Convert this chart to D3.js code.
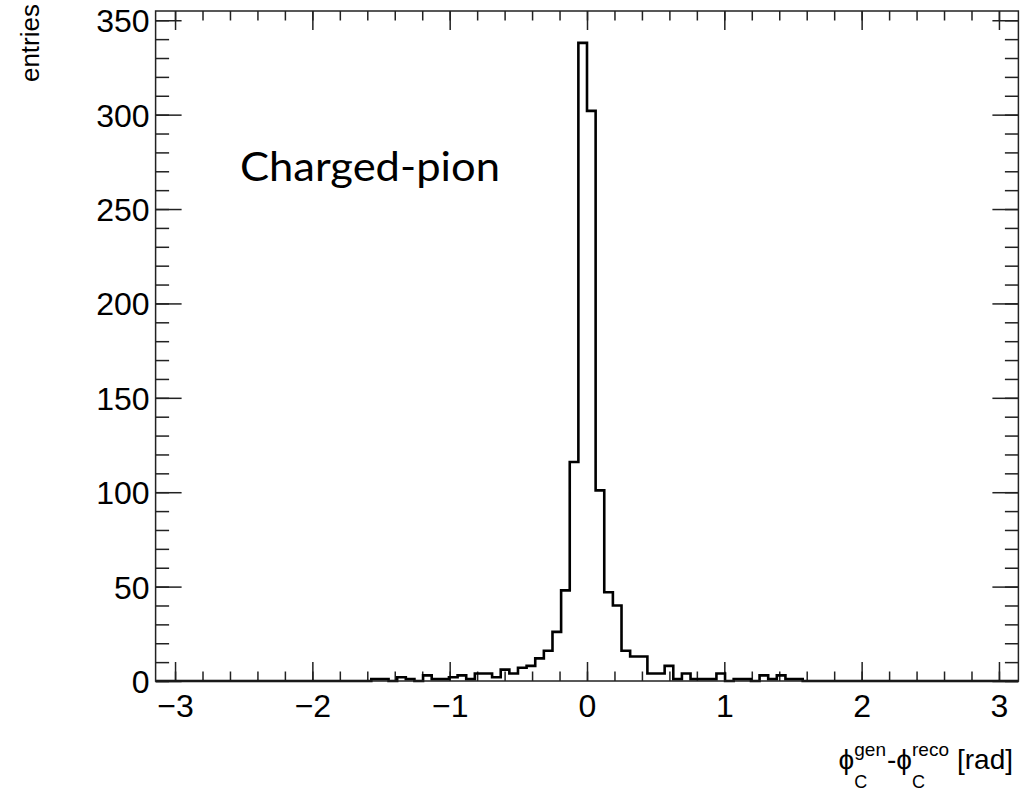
<!DOCTYPE html>
<html>
<head>
<meta charset="utf-8">
<script src="https://cdn.jsdelivr.net/npm/d3@7"></script>
<style>
  body { margin: 0; background: #fff; }
  svg { display: block; }
</style>
</head>
<body>
<div id="graph"></div>
<script>
// histogram definition: 100 bins over [-pi, pi]
const xMin = -Math.PI, xMax = Math.PI;
const counts = [
  0,0,0,0,0,0,0,0,0,0, 0,0,0,0,0,0,0,0,0,0, 0,0,0,0,0,
  1,1,0,2,1,0,3,1,1,2,
  3,1,4,4,2,6,4,7,8,12,
  16,26,48,116,338,302,101,47,40,16,
  13,13,4,4,8,1,4,1,1,1,
  4,0,1,1,0,3,1,3,1,1,
  0,0,0,0,0,0,0,0,0,0, 0,0,0,0,0,0,0,0,0,0, 0,0,0,0,0
];
const xTicks = [-3, -2, -1, 0, 1, 2, 3];
const yTicks = [0, 50, 100, 150, 200, 250, 300, 350];
const yMax = 354.9;
const label = "Charged-pion";

const width = 1023, height = 794;
const frame = {left: 155.6, right: 1018.4, top: 11, bottom: 681};

let graph = d3.select("div#graph")
  .append("svg")
  .attr("width", width)
  .attr("height", height);

let xScale = d3.scaleLinear().domain([xMin, xMax]).range([frame.left, frame.right]);
let yScale = d3.scaleLinear().domain([0, yMax]).range([frame.bottom, frame.top]);

const nBins = counts.length;
const binW = (xMax - xMin) / nBins;

// minor ticks
const xMinor = d3.range(-3, 3.001, 0.2).map(v => +v.toFixed(2));
const yMinor = d3.range(0, 351, 10);

const axisColor = "#222";
const tickFont = "'Liberation Sans', Arial, Helvetica, sans-serif";

// bottom / top axes
let xAxisB = d3.axisBottom(xScale).tickValues(xTicks).tickSize(-19).tickPadding(13).tickFormat(d3.format("d"));
let xAxisBm = d3.axisBottom(xScale).tickValues(xMinor).tickSize(-9.5).tickFormat("");
let xAxisT = d3.axisTop(xScale).tickValues(xTicks).tickSize(-19).tickFormat("");
let xAxisTm = d3.axisTop(xScale).tickValues(xMinor).tickSize(-9.5).tickFormat("");

let yAxisL = d3.axisLeft(yScale).tickValues(yTicks).tickSize(-26).tickPadding(6);
let yAxisLm = d3.axisLeft(yScale).tickValues(yMinor).tickSize(-13.5).tickFormat("");
let yAxisR = d3.axisRight(yScale).tickValues(yTicks).tickSize(-26).tickFormat("");
let yAxisRm = d3.axisRight(yScale).tickValues(yMinor).tickSize(-13.5).tickFormat("");

function addAxis(ax, tx, ty) {
  let g = graph.append("g")
    .attr("transform", `translate(${tx}, ${ty})`)
    .call(ax);
  g.select(".domain").remove();
  g.selectAll("line").attr("stroke", axisColor).attr("stroke-width", 1.5);
  g.selectAll("text")
    .attr("fill", "#000")
    .style("font-family", tickFont)
    .style("font-size", "32px");
  return g;
}

addAxis(xAxisBm, 0, frame.bottom);
addAxis(xAxisTm, 0, frame.top);
addAxis(xAxisT, 0, frame.top);
addAxis(yAxisLm, frame.left, 0);
addAxis(yAxisRm, frame.right, 0);
addAxis(yAxisR, frame.right, 0);
let gx = addAxis(xAxisB, 0, frame.bottom);
gx.selectAll("text").attr("dy", "0.71em");
let gy = addAxis(yAxisL, frame.left, 0);
gy.selectAll("text").attr("dy", "0.36em");

// histogram outline
let pts = [[xScale(xMin), yScale(0)]];
counts.forEach((c, i) => {
  let x0 = xScale(xMin + i * binW), x1 = xScale(xMin + (i + 1) * binW);
  pts.push([x0, yScale(c)]);
  pts.push([x1, yScale(c)]);
});
pts.push([xScale(xMax), yScale(0)]);

graph.append("path")
  .attr("d", d3.line()(pts))
  .attr("fill", "none")
  .attr("stroke", "#000")
  .attr("stroke-width", 2.6)
  .attr("stroke-linejoin", "miter");

// frame
graph.append("rect")
  .attr("x", frame.left)
  .attr("y", frame.top)
  .attr("width", frame.right - frame.left)
  .attr("height", frame.bottom - frame.top)
  .attr("fill", "none")
  .attr("stroke", axisColor)
  .attr("stroke-width", 1.5);

// y title
graph.append("text")
  .attr("transform", "translate(39, 4) rotate(-90)")
  .attr("text-anchor", "end")
  .style("font-family", tickFont)
  .style("font-size", "26px")
  .text("entries");

// x title: phi_C^gen - phi_C^reco [rad]
let tg = graph.append("g");
let cx = 0;
function piece(str, size, dy) {
  let t = tg.append("text")
    .attr("x", cx)
    .attr("y", dy)
    .style("font-family", tickFont)
    .style("font-size", size + "px")
    .text(str);
  return t.node().getComputedTextLength();
}
function supsub(sup, sub) {
  let w1 = piece(sup, 19, -13);
  let w2 = piece(sub, 18, 19);
  cx += Math.max(w1, w2) + 1;
}
cx += piece("\u03d5", 28, 0);
supsub("gen", "C");
cx += piece("-\u03d5", 28, 0);
supsub("reco", "C");
cx += 7;
cx += piece("[rad]", 28, 0);
tg.attr("transform", `translate(${1013 - cx}, 769)`);

// label
graph.append("text")
  .attr("x", 240)
  .attr("y", 181)
  .style("font-family", "Lato, 'Open Sans', sans-serif")
  .style("font-size", "40px")
  .attr("textLength", 260)
  .attr("lengthAdjust", "spacingAndGlyphs")
  .text(label);
</script>
</body>
</html>
